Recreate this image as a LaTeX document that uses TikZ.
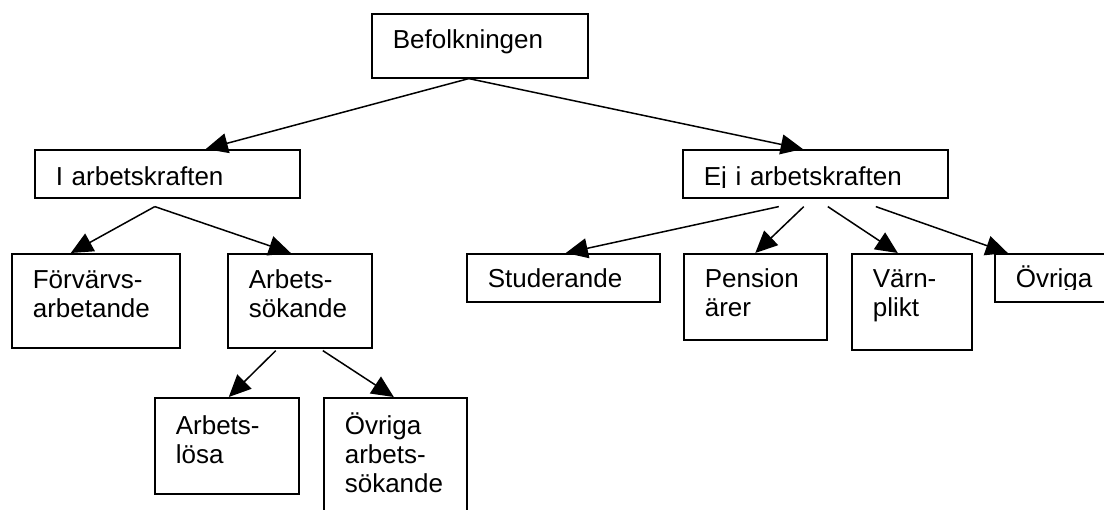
\documentclass[tikz,border=0pt]{standalone}
\usepackage{fontspec}
\setmainfont{Liberation Sans}
\usetikzlibrary{arrows.meta}
\tikzset{
  box/.style={draw, rectangle, line width=1.6pt, anchor=north west,
    inner xsep=21pt, inner ysep=0pt, align=left,
    font=\fontsize{26}{29}\selectfont},
  link/.style={line width=1.5pt, -{Triangle[length=22pt,width=20pt]}}
}
\begin{document}
\begin{tikzpicture}[x=1pt,y=-1pt]
      \useasboundingbox (0,0) rectangle (1104,510);
      \node[box, text width=174pt, text height=35pt, text depth=29pt] (bef) at (371,13) {Befolkningen};
      \node[box, text width=223pt, text height=36pt, text depth=12pt] (iak) at (34,149) {I arbetskraften};
      \begin{scope}[even odd rule]
        \clip (0,0) rectangle (1104,510) (690,188) rectangle (940,195.5);
        \node[box, text width=223pt, text height=36pt, text depth=12pt] (ejak) at (682,149) {Ej i arbetskraften};
      \end{scope}
      \node[box, text width=126pt, text height=35pt, text depth=59pt] (forv) at (11,253) {Förvärvs-\\arbetande};
      \node[box, text width=102pt, text height=35pt, text depth=59pt] (arbs) at (227,253) {Arbets-\\sökande};
      \node[box, text width=151pt, text height=34pt, text depth=14pt] (stud) at (466,253) {Studerande};
      \node[box, text width=101pt, text height=34pt, text depth=52pt] (pens) at (683,253) {Pension\\ärer};
      \node[box, text width=78pt, text height=34pt, text depth=62pt] (varn) at (851,253) {Värn-\\plikt};
      \begin{scope}[even odd rule]
        \clip (0,0) rectangle (1104,510) (1000,290) rectangle (1104,299.5);
        \node[box, text width=88pt, text height=34pt, text depth=14pt] (ovr) at (994,253) {Övriga};
      \end{scope}
      \node[box, text width=102pt, text height=37pt, text depth=59pt] (alos) at (154,397) {Arbets-\\lösa};
      \node[box, text width=101pt, text height=37pt, text depth=93pt] (oas) at (323,397) {Övriga\\arbets-\\sökande};
      \begin{scope}[link]
        \draw ([xshift=-11pt]bef.south) to ([xshift=38.5pt]iak.north);
        \draw ([xshift=-11pt]bef.south) to ([xshift=-12.5pt]ejak.north);
        \draw ([xshift=-12.5pt,yshift=-8pt]iak.south) to ([xshift=-25pt]forv.north);
        \draw ([xshift=-12.5pt,yshift=-8pt]iak.south) to ([xshift=-9pt]arbs.north);
        \draw ([xshift=-36.5pt,yshift=-8pt]ejak.south) to ([xshift=2.5pt]stud.north);
        \draw ([xshift=-11.5pt,yshift=-8pt]ejak.south) to (pens.north);
        \draw ([xshift=12.5pt,yshift=-8pt]ejak.south) to ([xshift=-14pt]varn.north);
        \draw ([xshift=60.5pt,yshift=-8pt]ejak.south) to ([xshift=-52pt]ovr.north);
        \draw ([xshift=-24pt,yshift=-2pt]arbs.south) to ([xshift=2pt]alos.north);
        \draw ([xshift=23pt,yshift=-2pt]arbs.south) to ([xshift=-1.5pt]oas.north);
      \end{scope}
\end{tikzpicture}
\end{document}
